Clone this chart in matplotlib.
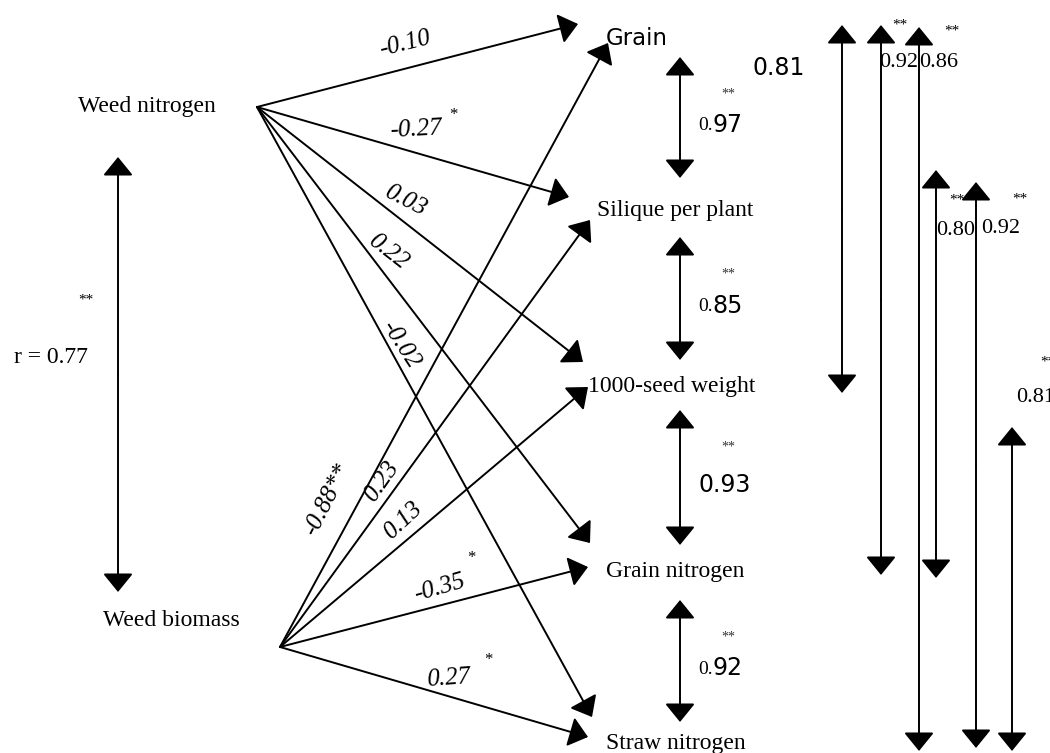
import matplotlib.pyplot as plt

# path coefficients from the two weed traits to the crop traits
targets = ['Grain', 'Silique per plant', '1000-seed weight', 'Grain nitrogen', 'Straw nitrogen']
weed_n_coef = [-0.10, -0.27, 0.03, 0.22, -0.02]
weed_n_sig = ['', '*', '', '', '']
biomass_coef = [-0.88, 0.23, 0.13, -0.35, 0.27]
biomass_sig = ['**', '', '', '*', '*']

# correlation between the weed traits
r_weed = 0.77

# correlations between neighbouring crop traits
adjacent_r = [0.97, 0.85, 0.93, 0.92]

# correlations drawn on the right-hand side
right_r = [0.81, 0.92, 0.86, 0.80, 0.92, 0.81]
right_sig = ['', '**', '**', '**', '**', '**']

# ---- layout (pixel space) ----
SERIF = 'Liberation Serif'
SANS = 'DejaVu Sans'

weed_n_xy = (257, 107)
biomass_xy = (280, 647)
label_xy = [(606, 38), (597, 210), (588, 386), (606, 571), (606, 744)]
label_font = [SANS, SERIF, SERIF, SERIF, SERIF]

weed_n_tips = [(578, 24), (569, 197), (583, 362), (590, 543), (592, 717)]
weed_n_lab = [(405, 44, 14), (416, 130, 3), (405, 201, -27), (388, 252, -38), (400, 345, -57)]
weed_n_star = [None, (453, 115), None, None, None]

biomass_tips = [(608, 43), (590, 220), (588, 387), (588, 567), (588, 737)]
biomass_lab = [(327, 500, 63), (382, 482, 55), (403, 521, 43), (439, 588, 16), (448, 678, 4)]
biomass_star = [None, None, None, (471, 558), (488, 660)]

mid_x = 680
mid_spans = [(57, 178), (237, 360), (410, 545), (600, 722)]

right_x = [842, 881, 919, 936, 976, 1012]
right_spans = [(25, 393), (25, 575), (27, 751), (170, 578), (182, 748), (427, 751)]
right_lab = [(752, 68), (879, 62), (919, 62), (936, 230), (981, 228), (1016, 397)]
right_star = [None, (900, 25), (952, 31), (957, 200), (1020, 199), (1048, 362)]

LW = 1.4
HEAD = '-|>,head_length=0.32,head_width=0.26'


def arrow(ax, start, tip):
    ax.annotate('', xy=tip, xytext=start,
                arrowprops=dict(arrowstyle=HEAD, mutation_scale=36, lw=LW,
                                color='black', shrinkA=0, shrinkB=0))


fig = plt.figure(figsize=(10.5, 7.53), dpi=100)
ax = fig.add_axes([0, 0, 1, 1])
ax.set_xlim(0, 1050)
ax.set_ylim(753, 0)
ax.axis('off')

# weed traits and their correlation
ax.text(78, 106, 'Weed nitrogen', family=SERIF, fontsize=17, ha='left', va='center')
ax.text(103, 621, 'Weed biomass', family=SERIF, fontsize=17, ha='left', va='center')
arrow(ax, (118, 375), (118, 157))
arrow(ax, (118, 375), (118, 592))
ax.text(14, 357, 'r = %.2f' % r_weed, family=SERIF, fontsize=17, ha='left', va='center')
ax.text(86, 300, '**', family=SERIF, fontsize=11, ha='center', va='center')

# crop trait labels
for name, (x, y), fam in zip(targets, label_xy, label_font):
    ax.text(x, y, name, family=fam, fontsize=17 if fam == SERIF else 16.5,
            ha='left', va='center')

# path arrows
for coef, sig, tip, (lx, ly, rot), star in zip(weed_n_coef, weed_n_sig, weed_n_tips,
                                               weed_n_lab, weed_n_star):
    arrow(ax, weed_n_xy, tip)
    ax.text(lx, ly, '%.2f' % coef, family=SERIF, style='italic', fontsize=18,
            rotation=rot, rotation_mode='anchor', ha='center', va='center')
    if star:
        ax.text(star[0], star[1], sig, family=SERIF, fontsize=12, ha='center', va='center')

for coef, sig, tip, (lx, ly, rot), star in zip(biomass_coef, biomass_sig, biomass_tips,
                                               biomass_lab, biomass_star):
    arrow(ax, biomass_xy, tip)
    txt = '%.2f' % coef
    if star is None:
        txt += sig
    ax.text(lx, ly, txt, family=SERIF, style='italic', fontsize=18,
            rotation=rot, rotation_mode='anchor', ha='center', va='center')
    if star:
        ax.text(star[0], star[1], sig, family=SERIF, fontsize=12, ha='center', va='center')

# correlations between neighbouring traits
for i, (r, (y0, y1)) in enumerate(zip(adjacent_r, mid_spans)):
    arrow(ax, (mid_x, (y0 + y1) / 2), (mid_x, y0))
    arrow(ax, (mid_x, (y0 + y1) / 2), (mid_x, y1))
    ym = (y0 + y1) / 2 + 7
    s = '%.2f' % r
    if i == 2:
        ax.text(699, ym, s, family=SANS, fontsize=17, ha='left', va='center')
    else:
        ax.text(698, ym + 1, s[:2], family=SERIF, fontsize=14, ha='left', va='center')
        ax.text(712, ym, s[2:], family=SANS, fontsize=17, ha='left', va='center')
    ax.text(728, y0 + 37, '**', family=SERIF, fontsize=10, ha='center', va='center',
            color='#333333')

# correlations on the right
for k, (x, (y0, y1), r, sig, (lx, ly), star) in enumerate(
        zip(right_x, right_spans, right_r, right_sig, right_lab, right_star)):
    arrow(ax, (x, (y0 + y1) / 2), (x, y0))
    arrow(ax, (x, (y0 + y1) / 2), (x, y1))
    if k == 0:
        ax.text(lx, ly, '%.2f' % r, family=SANS, fontsize=17, ha='left', va='center')
    else:
        ax.text(lx, ly, '%.2f' % r, family=SERIF, fontsize=16, ha='left', va='center')
    if star:
        ax.text(star[0], star[1], sig, family=SERIF, fontsize=11, ha='center', va='center')

fig.savefig('out.png', dpi=100)
